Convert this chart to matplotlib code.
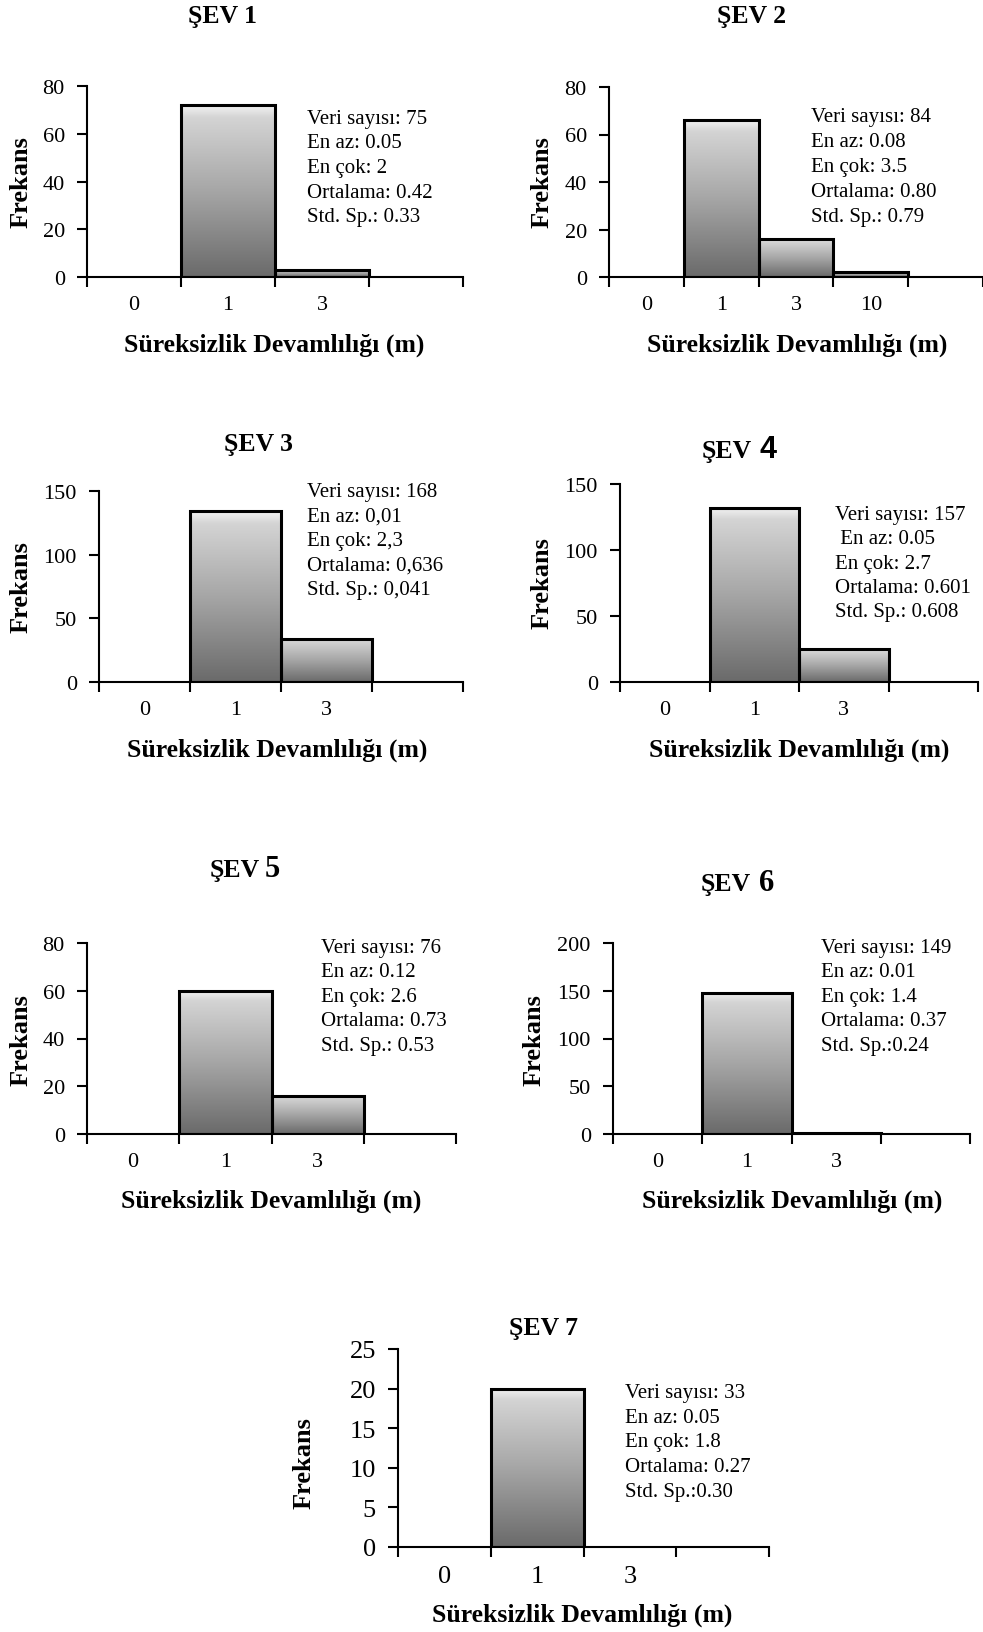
import numpy as np
import matplotlib
matplotlib.use("Agg")
import matplotlib.pyplot as plt
from matplotlib.colors import LinearSegmentedColormap

# slot labels and frequencies for each slope (ŞEV)
cats_1 = ["0", "1", "3", ""]
freq_1 = [0, 72, 3, 0]
cats_2 = ["0", "1", "3", "10", ""]
freq_2 = [0, 66, 16, 2, 0]
cats_3 = ["0", "1", "3", ""]
freq_3 = [0, 134, 34, 0]
cats_4 = ["0", "1", "3", ""]
freq_4 = [0, 132, 25, 0]
cats_5 = ["0", "1", "3", ""]
freq_5 = [0, 60, 16, 0]
cats_6 = ["0", "1", "3", ""]
freq_6 = [0, 148, 1, 0]
cats_7 = ["0", "1", "3", ""]
freq_7 = [0, 20, 0, 0]

yticks_1 = [0, 20, 40, 60, 80]
yticks_2 = [0, 20, 40, 60, 80]
yticks_3 = [0, 50, 100, 150]
yticks_4 = [0, 50, 100, 150]
yticks_5 = [0, 20, 40, 60, 80]
yticks_6 = [0, 50, 100, 150, 200]
yticks_7 = [0, 5, 10, 15, 20, 25]

stats_1 = ["Veri sayısı: 75", "En az: 0.05", "En çok: 2", "Ortalama: 0.42", "Std. Sp.: 0.33"]
stats_2 = ["Veri sayısı: 84", "En az: 0.08", "En çok: 3.5", "Ortalama: 0.80", "Std. Sp.: 0.79"]
stats_3 = ["Veri sayısı: 168", "En az: 0,01", "En çok: 2,3", "Ortalama: 0,636", "Std. Sp.: 0,041"]
stats_4 = ["Veri sayısı: 157", " En az: 0.05", "En çok: 2.7", "Ortalama: 0.601", "Std. Sp.: 0.608"]
stats_5 = ["Veri sayısı: 76", "En az: 0.12", "En çok: 2.6", "Ortalama: 0.73", "Std. Sp.: 0.53"]
stats_6 = ["Veri sayısı: 149", "En az: 0.01", "En çok: 1.4", "Ortalama: 0.37", "Std. Sp.:0.24"]
stats_7 = ["Veri sayısı: 33", "En az: 0.05", "En çok: 1.8", "Ortalama: 0.27", "Std. Sp.:0.30"]

titles = ["1", "2", "3", "4", "5", "6", "7"]
xlab = "Süreksizlik Devamlılığı (m)"
ylab = "Frekans"

W, H = 983, 1633
SERIF = "Liberation Serif"

def fx(x):
    return x / W

def fy(y):
    return 1 - y / H

# light top (with a thin highlight) fading to dark grey at the bottom
bar_cmap = LinearSegmentedColormap.from_list(
    "bar", [(0.0, "#6a6a6a"), (0.5, "#a6a6a6"), (0.93, "#d4d4d4"),
            (0.97, "#e6e6e6"), (1.0, "#f2f2f2")])
grad = np.linspace(0, 1, 256).reshape(-1, 1)

fig = plt.figure(figsize=(W / 100, H / 100), dpi=100)


def panel(box, cats, freq, yticks, tick_fs=16):
    # box = (left, right, top, bottom) in pixels
    x0, x1, yt, yb = box
    ax = fig.add_axes([fx(x0), fy(yb), (x1 - x0) / W, (yb - yt) / H])
    n = len(cats)
    pos = np.arange(n)
    vals = np.array(freq)
    keep = vals > 0
    bars = ax.bar(pos[keep], vals[keep], width=1.0, facecolor="none",
                  edgecolor="black", linewidth=2.2, zorder=3)
    for b in bars:
        bx, by = b.get_xy()
        ax.imshow(grad, extent=(bx, bx + b.get_width(), by, by + b.get_height()),
                  origin="lower", aspect="auto", cmap=bar_cmap, zorder=2,
                  interpolation="bicubic")
    ax.set_xlim(-0.5, n - 0.5)
    ax.set_ylim(yticks[0], yticks[-1])
    ax.set_aspect("auto")
    for s in ["top", "right"]:
        ax.spines[s].set_visible(False)
    for s in ["left", "bottom"]:
        ax.spines[s].set_linewidth(1.5)
    ax.set_yticks(yticks)
    ax.set_xticks(np.arange(n + 1) - 0.5)
    ax.set_xticklabels([])
    ax.set_xticks(pos, minor=True)
    ax.set_xticklabels(cats, minor=True)
    ax.tick_params(axis="x", which="major", length=7, width=1.5, direction="out")
    ax.tick_params(axis="x", which="minor", length=0, pad=13)
    ax.tick_params(axis="y", length=7, width=1.5, direction="out", pad=9)
    for lab in ax.get_xticklabels(minor=True) + ax.get_yticklabels():
        lab.set_fontfamily(SERIF)
        lab.set_fontsize(tick_fs)
    return ax


def stats_text(x, y0, lines, step=24.5):
    for i, line in enumerate(lines):
        fig.text(fx(x), fy(y0 + i * step), line, family=SERIF, fontsize=15,
                 ha="left", va="baseline")


def labels(xl, yl):
    fig.text(fx(xl[0]), fy(xl[1]), xlab, family=SERIF, fontsize=18.5,
             fontweight="bold", ha="center", va="baseline")
    fig.text(fx(yl[0]), fy(yl[1]), ylab, family=SERIF, fontsize=19,
             fontweight="bold", ha="center", va="center", rotation=90)


def title(cx, y, num):
    fig.text(fx(cx), fy(y), "ŞEV " + num, family=SERIF, fontsize=18.5,
             fontweight="bold", ha="center", va="baseline")


def title_big(xr, xl, y, num, fam):
    fig.text(fx(xr), fy(y), "ŞEV", family=SERIF, fontsize=18.5,
             fontweight="bold", ha="right", va="baseline")
    fig.text(fx(xl), fy(y), num, family=fam, fontsize=22,
             fontweight="bold", ha="left", va="baseline")


# ŞEV 1
panel((87, 463, 87, 278), cats_1, freq_1, yticks_1)
stats_text(307, 124, stats_1)
labels((274, 351.7), (21, 182))
title(223, 22.7, titles[0])

# ŞEV 2
panel((609, 983, 88, 278), cats_2, freq_2, yticks_2)
stats_text(811, 122, stats_2, 25)
labels((797, 351.7), (542, 182.5))
title(752, 22.7, titles[1])

# ŞEV 3
panel((99, 463, 492, 683), cats_3, freq_3, yticks_3)
stats_text(307, 497.3, stats_3, 24.4)
labels((277.5, 756.7), (21, 587.5))
title(259, 451, titles[2])

# ŞEV 4
panel((620, 978, 485, 683), cats_4, freq_4, yticks_4)
stats_text(835, 520, stats_4, 24.3)
labels((799, 756.7), (542, 583))
title_big(752, 759, 458.3, titles[3], "Liberation Sans")

# ŞEV 5
panel((87, 456, 944, 1135), cats_5, freq_5, yticks_5)
stats_text(321, 952.7, stats_5, 24.6)
labels((271, 1208), (21, 1040))
title_big(260, 265, 876.7, titles[4], SERIF)

# ŞEV 6
panel((613, 970, 944, 1135), cats_6, freq_6, yticks_6)
stats_text(821, 952.7, stats_6, 24.6)
labels((792, 1208), (534, 1040))
title_big(751, 759, 891, titles[5], SERIF)

# ŞEV 7
panel((398, 769, 1350, 1548), cats_7, freq_7, yticks_7, tick_fs=19)
stats_text(625, 1398.3, stats_7, 24.6)
labels((582.5, 1621.7), (304, 1463))
title(543.8, 1335, titles[6])

fig.savefig("out.png", dpi=100, facecolor="white")
